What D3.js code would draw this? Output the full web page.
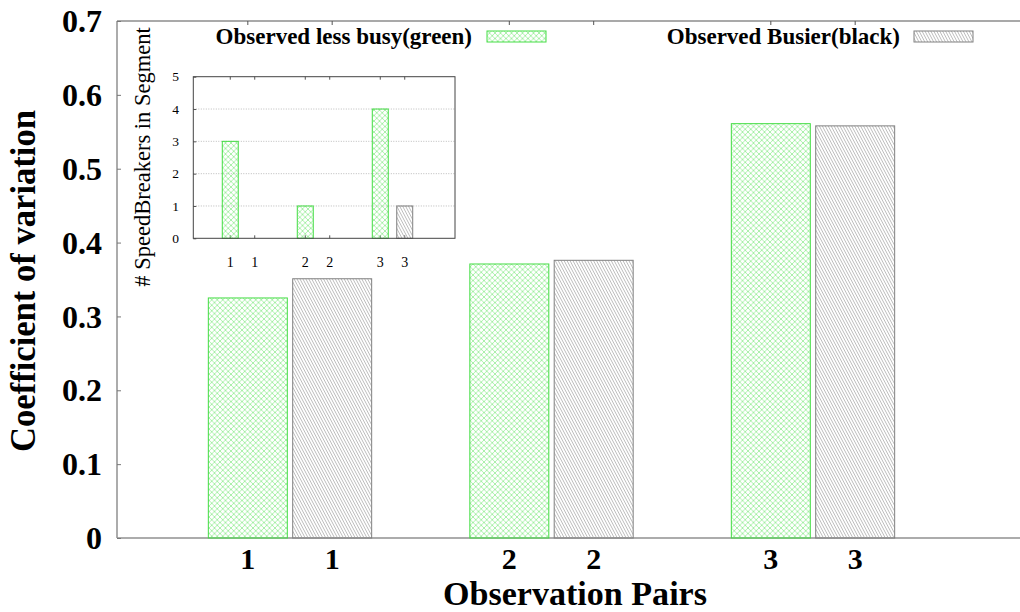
<!DOCTYPE html>
<html>
<head>
<meta charset="utf-8">
<script src="https://cdn.jsdelivr.net/npm/d3@7"></script>
<style>
  html, body { margin: 0; padding: 0; background: #fff; }
  svg { display: block; }
  text { font-family: "Liberation Serif", "Times New Roman", serif; }
</style>
</head>
<body>
<svg id="chart" width="1020" height="612"></svg>
<script>
// ---- data ----
const categories = ["1", "2", "3"];
const lessBusy = [0.325, 0.371, 0.561];   // green
const busier   = [0.351, 0.376, 0.558];   // black
const yTicks = [0, 0.1, 0.2, 0.3, 0.4, 0.5, 0.6, 0.7];

const insetLess = [3, 1, 4];
const insetBusy = [0, 0, 1];
const insetYTicks = [0, 1, 2, 3, 4, 5];

const seriesNames = ["Observed less busy(green)", "Observed Busier(black)"];

// ---- setup ----
const svg = d3.select("#chart");
const defs = svg.append("defs");

// green cross-hatch
const pg = defs.append("pattern").attr("id", "pGreen")
  .attr("patternUnits", "userSpaceOnUse").attr("width", 5.5).attr("height", 5.5);
pg.append("path").attr("d", "M0,0 L5.5,5.5 M-2.75,2.75 L2.75,8.25 M2.75,-2.75 L8.25,2.75 M0,5.5 L5.5,0 M-2.75,2.75 L2.75,-2.75 M2.75,8.25 L8.25,2.75")
  .attr("stroke", "#86ea86").attr("stroke-width", 0.7).attr("fill", "none");

// gray diagonal hatch
const pk = defs.append("pattern").attr("id", "pGray")
  .attr("patternUnits", "userSpaceOnUse").attr("width", 2.6).attr("height", 10)
  .attr("patternTransform", "rotate(-28)");
pk.append("line").attr("x1", 1.3).attr("y1", -1).attr("x2", 1.3).attr("y2", 11)
  .attr("stroke", "#b0b0b0").attr("stroke-width", 0.8);

const greenStroke = "#44dd44";
const grayStroke = "#808080";

// ---- main scales ----
const x = d3.scaleLinear().domain([0, 2]).range([290, 813]);
const y = d3.scaleLinear().domain([0, 0.7]).range([538, 21]);
const xLeft = x.invert(117), xRight = x.invert(1040);
const off = 0.1613, bw = 0.302;

// frame
svg.append("line").attr("x1", x(xLeft)).attr("x2", x(xRight)).attr("y1", y(0.7)).attr("y2", y(0.7))
  .attr("stroke", "#555").attr("stroke-width", 1.2);
svg.append("line").attr("x1", x(xLeft)).attr("x2", x(xRight)).attr("y1", y(0)).attr("y2", y(0))
  .attr("stroke", "#909090").attr("stroke-width", 1.5);
svg.append("line").attr("x1", x(xLeft)).attr("x2", x(xLeft)).attr("y1", y(0)).attr("y2", y(0.7))
  .attr("stroke", "#909090").attr("stroke-width", 1.5);

// y axis (ticks inward, labels manually placed)
const yAxis = d3.axisRight(y).tickValues(yTicks).tickSize(4).tickFormat("");
const gy = svg.append("g").attr("transform", `translate(${x(xLeft)},0)`).call(yAxis);
gy.select(".domain").remove();
gy.selectAll(".tick line").attr("stroke", "#777");
svg.append("g").selectAll("text").data(yTicks).join("text")
  .attr("x", 102).attr("y", d => y(d)).attr("dy", "0.35em")
  .attr("text-anchor", "end").attr("font-size", 32).attr("font-weight", "bold")
  .text(d => d === 0 ? "0" : d3.format(".1f")(d));

// x tick positions (bar centres)
const xTickPos = [];
const xTickLab = [];
categories.forEach((c, i) => { xTickPos.push(i - off, i + off); xTickLab.push(c, c); });

// top mirror ticks
svg.append("g").selectAll("line").data(xTickPos).join("line")
  .attr("x1", d => x(d)).attr("x2", d => x(d)).attr("y1", y(0.7)).attr("y2", y(0.7) + 4)
  .attr("stroke", "#555");

// bars
const bars = svg.append("g");
bars.selectAll("rect.g").data(lessBusy).join("rect").attr("class", "g")
  .attr("x", (d, i) => x(i - off - bw / 2)).attr("width", x(bw) - x(0))
  .attr("y", d => y(d)).attr("height", d => y(0) - y(d))
  .attr("fill", "url(#pGreen)").attr("stroke", greenStroke).attr("stroke-width", 1);
bars.selectAll("rect.k").data(busier).join("rect").attr("class", "k")
  .attr("x", (d, i) => x(i + off - bw / 2)).attr("width", x(bw) - x(0))
  .attr("y", d => y(d)).attr("height", d => y(0) - y(d))
  .attr("fill", "url(#pGray)").attr("stroke", grayStroke).attr("stroke-width", 1);

// x tick labels
svg.append("g").selectAll("text").data(xTickPos).join("text")
  .attr("x", d => x(d)).attr("y", 569)
  .attr("text-anchor", "middle").attr("font-size", 30).attr("font-weight", "bold")
  .text((d, i) => xTickLab[i]);

// axis titles
svg.append("text").attr("x", 575).attr("y", 605)
  .attr("text-anchor", "middle").attr("font-size", 34).attr("font-weight", "bold")
  .attr("textLength", 264).attr("lengthAdjust", "spacingAndGlyphs")
  .text("Observation Pairs");
svg.append("text").attr("transform", "translate(35,281) rotate(-90)")
  .attr("text-anchor", "middle").attr("font-size", 36).attr("font-weight", "bold")
  .attr("textLength", 342).attr("lengthAdjust", "spacingAndGlyphs")
  .text("Coefficient of variation");

// legend
const legend = [
  { name: seriesNames[0], tx: 472, sx: 487, fill: "url(#pGreen)", stroke: greenStroke },
  { name: seriesNames[1], tx: 900, sx: 914, fill: "url(#pGray)", stroke: grayStroke }
];
const lg = svg.append("g");
legend.forEach(l => {
  lg.append("text").attr("x", l.tx).attr("y", 44).attr("text-anchor", "end")
    .attr("font-size", 23).attr("font-weight", "bold").text(l.name);
  lg.append("rect").attr("x", l.sx).attr("y", 31).attr("width", 59).attr("height", 11)
    .attr("fill", l.fill).attr("stroke", l.stroke).attr("stroke-width", 1);
});

// ---- inset ----
const ix = d3.scaleLinear().domain([0, 2]).range([242.5, 392.5]);
const iy = d3.scaleLinear().domain([0, 5]).range([238.3, 76.7]);
const iL = 193.3, iR = 455;
const ioff = 0.163, ibw = 0.213;
const ins = svg.append("g");

// grid (dotted)
ins.selectAll("line.grid").data([1, 2, 3, 4]).join("line").attr("class", "grid")
  .attr("x1", iL).attr("x2", iR).attr("y1", d => iy(d)).attr("y2", d => iy(d))
  .attr("stroke", "#aaa").attr("stroke-width", 0.8).attr("stroke-dasharray", "1,1.5");

// y ticks
const iyAxis = d3.axisRight(iy).tickValues(insetYTicks).tickSize(3).tickFormat("");
const giy = ins.append("g").attr("transform", `translate(${iL},0)`).call(iyAxis);
giy.select(".domain").remove();
giy.selectAll(".tick line").attr("stroke", "#555");
ins.append("g").selectAll("text").data(insetYTicks).join("text")
  .attr("x", 179).attr("y", d => iy(d)).attr("dy", "0.35em").attr("text-anchor", "end")
  .attr("font-size", 13.5).text(d => d);

const iTickPos = [];
const iTickLab = [];
categories.forEach((c, i) => { iTickPos.push(i - ioff, i + ioff); iTickLab.push(c, c); });
ins.append("g").selectAll("line").data(iTickPos).join("line")
  .attr("x1", d => ix(d)).attr("x2", d => ix(d)).attr("y1", iy(5)).attr("y2", iy(5) + 3)
  .attr("stroke", "#555");
ins.append("g").selectAll("line").data(iTickPos).join("line")
  .attr("x1", d => ix(d)).attr("x2", d => ix(d)).attr("y1", iy(0)).attr("y2", iy(0) - 3)
  .attr("stroke", "#555");

// inset bars
ins.selectAll("rect.ig").data(insetLess).join("rect").attr("class", "ig")
  .attr("x", (d, i) => ix(i - ioff - ibw / 2)).attr("width", ix(ibw) - ix(0))
  .attr("y", d => iy(d)).attr("height", d => iy(0) - iy(d))
  .attr("fill", "url(#pGreen)").attr("stroke", greenStroke).attr("stroke-width", 1)
  .attr("display", d => d > 0 ? null : "none");
ins.selectAll("rect.ik").data(insetBusy).join("rect").attr("class", "ik")
  .attr("x", (d, i) => ix(i + ioff - ibw / 2)).attr("width", ix(ibw) - ix(0))
  .attr("y", d => iy(d)).attr("height", d => iy(0) - iy(d))
  .attr("fill", "url(#pGray)").attr("stroke", grayStroke).attr("stroke-width", 1)
  .attr("display", d => d > 0 ? null : "none");

// inset frame
ins.append("rect").attr("x", iL).attr("y", iy(5)).attr("width", iR - iL).attr("height", iy(0) - iy(5))
  .attr("fill", "none").attr("stroke", "#444").attr("stroke-width", 1);

// inset x labels
ins.append("g").selectAll("text").data(iTickPos).join("text")
  .attr("x", d => ix(d)).attr("y", 267).attr("text-anchor", "middle")
  .attr("font-size", 14).text((d, i) => iTickLab[i]);

// inset y title
ins.append("text").attr("transform", "translate(150,157) rotate(-90)")
  .attr("text-anchor", "middle").attr("font-size", 22.5)
  .text("# SpeedBreakers in Segment");
</script>
</body>
</html>
